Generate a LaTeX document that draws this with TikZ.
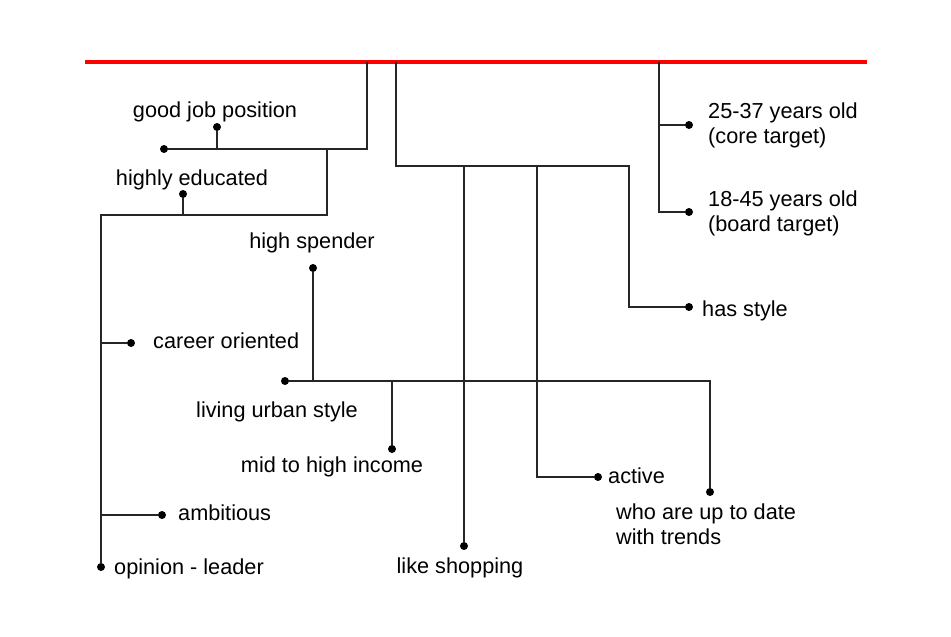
\documentclass[tikz,border=0pt]{standalone}
\usepackage{fontspec}
\setmainfont{Liberation Sans}
\usepackage{tikz}
\usetikzlibrary{positioning}

\begin{document}
\begin{tikzpicture}[
    x=1pt, y=-1pt,
    every node/.style={font=\fontsize{21.7}{25}\selectfont, inner sep=0pt},
    dot/.style={circle, fill=black, inner sep=0pt, minimum size=8pt},
    branch/.style={draw=black!85, line width=1.4pt},
    lbl/.style={anchor=base west, align=left},
    clbl/.style={anchor=base, align=center}
]
\useasboundingbox (0,0) rectangle (951,637);

\coordinate (top_L) at (85,62);
\coordinate (top_R) at (867,62);
\coordinate (top_A) at (367,62);
\coordinate (top_B) at (396,62);
\coordinate (top_C) at (659,62);

\node[dot] (job_end) at (164,149) {};
\node[dot] (job_dot) at (217,127) {};
\node[clbl] (job_lbl) at (215,117) {good job position};

\coordinate (edu_j) at (327,149);
\coordinate (lead_top) at (101,215);
\node[dot] (edu_dot) at (183,194) {};
\node[clbl] (edu_lbl) at (192,185) {highly educated};

\node[dot] (career_dot) at (131,343) {};
\node[lbl] (career_lbl) at (153,348) {career oriented};
\node[dot] (ambit_dot) at (162,515) {};
\node[lbl] (ambit_lbl) at (178,520) {ambitious};
\node[dot] (lead_dot) at (101,567) {};
\node[lbl] (lead_lbl) at (114,574) {opinion - leader};

\node[dot] (urban_dot) at (285,381) {};
\node[clbl] (urban_lbl) at (277,417) {living urban style};
\node[dot] (spend_dot) at (313,268) {};
\node[clbl] (spend_lbl) at (312,248) {high spender};
\node[dot] (income_dot) at (392,449) {};
\node[clbl] (income_lbl) at (332,472) {mid to high income};
\node[dot] (trend_dot) at (710,492) {};
\node[anchor=north west, align=left] (trend_lbl) at (616,504) {who are up to date\\with trends};

\coordinate (style_j) at (629,166);
\coordinate (active_j) at (537,166);
\node[dot] (shop_dot) at (464,546) {};
\node[clbl] (shop_lbl) at (460,573) {like shopping};
\node[dot] (active_dot) at (598,477) {};
\node[lbl] (active_lbl) at (608,483) {active};
\node[dot] (style_dot) at (689,307) {};
\node[lbl] (style_lbl) at (702,316) {has style};

\node[dot] (core_dot) at (689,125) {};
\node[anchor=north west, align=left] (core_lbl) at (708,103) {25-37 years old\\(core target)};
\node[dot] (board_dot) at (689,212) {};
\node[anchor=north west, align=left] (board_lbl) at (708,191) {18-45 years old\\(board target)};

\draw[red, line width=3.5pt] (top_L) -- (top_R);

\draw[branch] (top_A) |- (job_end);
\draw[branch] (job_dot) -- (job_dot |- job_end);
\draw[branch] (edu_j) |- (lead_top) -- (lead_dot);
\draw[branch] (edu_dot) -- (edu_dot |- lead_top);
\draw[branch] (career_dot -| lead_top) -- (career_dot);
\draw[branch] (ambit_dot -| lead_top) -- (ambit_dot);

\draw[branch] (top_B) |- (style_j) |- (style_dot);
\draw[branch] (shop_dot |- style_j) -- (shop_dot);
\draw[branch] (active_j) |- (active_dot);

\draw[branch] (urban_dot) -| (trend_dot);
\draw[branch] (spend_dot) -- (spend_dot |- urban_dot);
\draw[branch] (income_dot |- urban_dot) -- (income_dot);

\draw[branch] (top_C) |- (core_dot);
\draw[branch] (top_C) |- (board_dot);

\end{tikzpicture}
\end{document}
